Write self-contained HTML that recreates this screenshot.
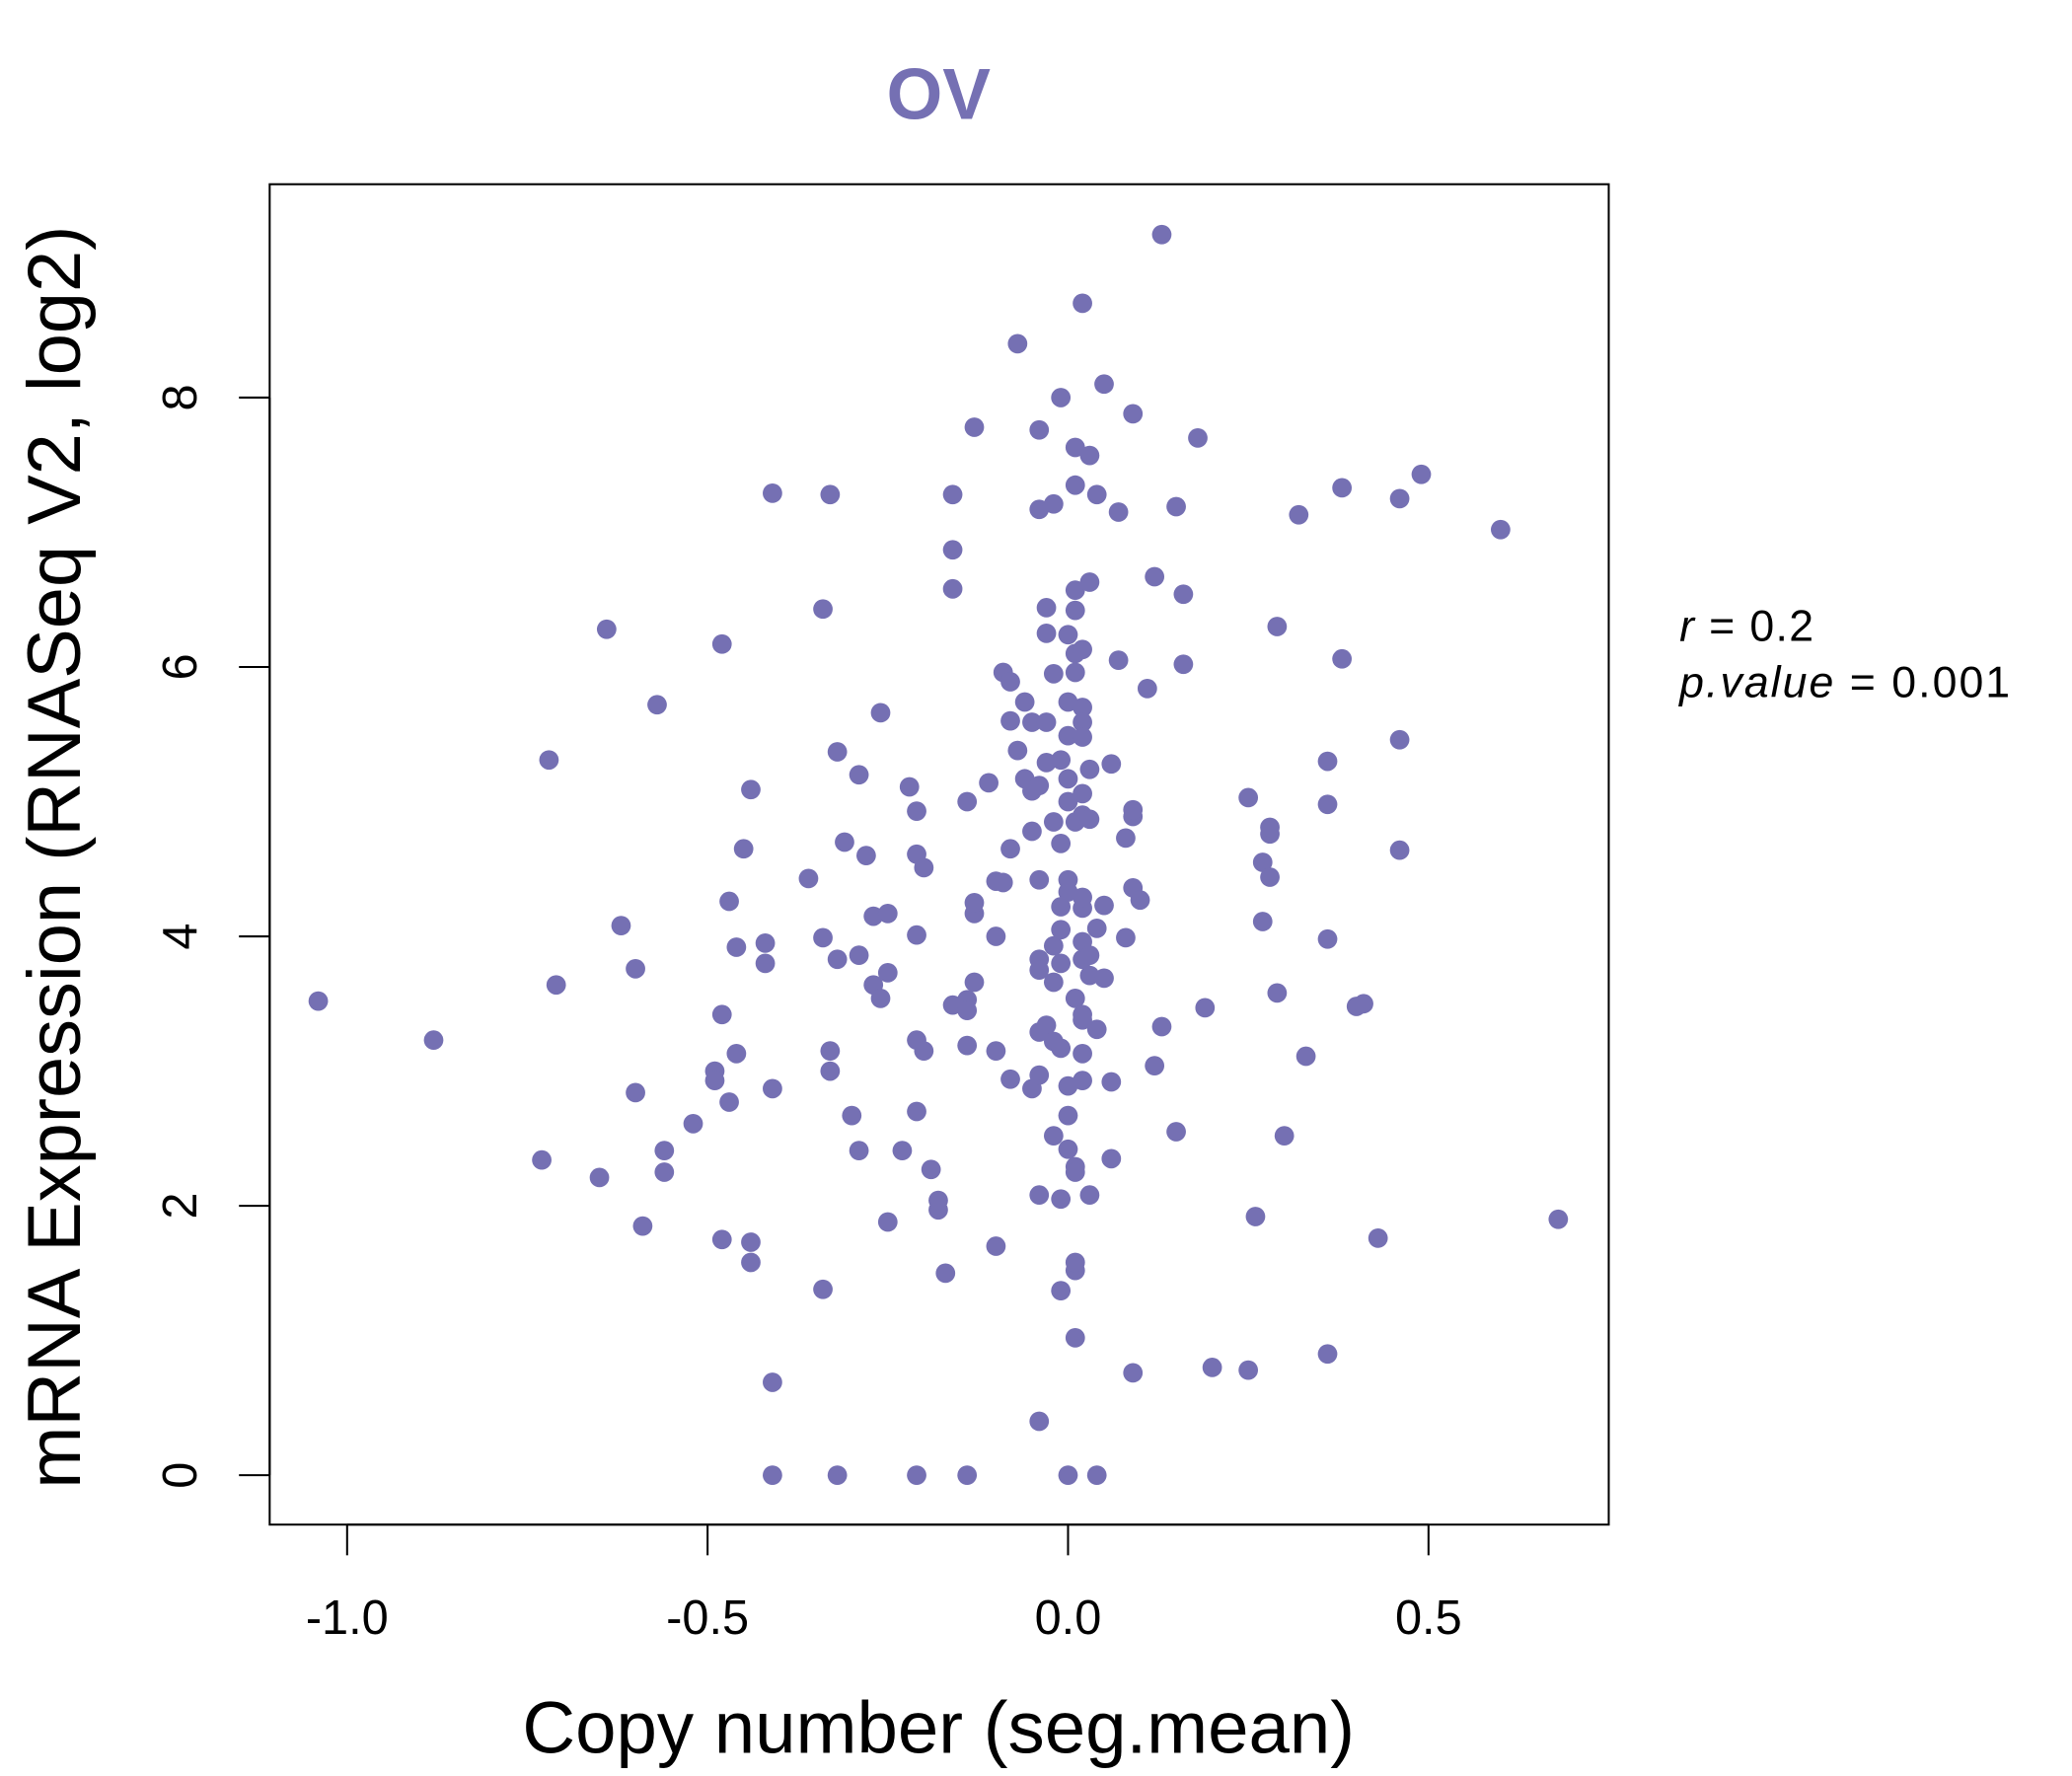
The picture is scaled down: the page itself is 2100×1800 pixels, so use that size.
<!DOCTYPE html>
<html><head><meta charset="utf-8"><style>
html,body{margin:0;padding:0;background:#fff;}
svg{display:block;font-family:"Liberation Sans",Arial,sans-serif;}
</style></head><body>
<svg id="chart" width="2100" height="1800" viewBox="0 0 1552 1330.3" preserveAspectRatio="none" xmlns="http://www.w3.org/2000/svg">
<rect width="1552" height="1330.3" fill="#fff"/>
<text x="703" y="89" text-anchor="middle" font-size="54" font-weight="bold" fill="#7570b3">OV</text>
<rect x="202" y="138" width="1003" height="1004" fill="none" stroke="#000" stroke-width="1.5"/>
<g id="xaxis"></g>
<g id="yaxis"></g>
<g id="points"></g>
<text x="703" y="1313" text-anchor="middle" font-size="55">Copy number (seg.mean)</text>
<text transform="translate(60,642) rotate(-90)" text-anchor="middle" font-size="56">mRNA Expression (RNASeq V2, log2)</text>
<text x="1258" y="480" font-size="33" letter-spacing="1"><tspan font-style="italic">r</tspan> = 0.2</text>
<text x="1258" y="522" font-size="33" letter-spacing="1.5"><tspan font-style="italic">p.value</tspan> = 0.001</text>
</svg>
<script>
const xTicks=[-1.0,-0.5,0.0,0.5];
const xTickLabels=["-1.0","-0.5","0.0","0.5"];
const yTicks=[0,2,4,6,8];
const yTickLabels=["0","2","4","6","8"];
const xs=[-1.04,-0.88,-0.73,-0.72,-0.71,-0.65,-0.64,-0.62,-0.60,-0.60,-0.59,-0.57,-0.56,-0.56,-0.52,-0.49,-0.49,-0.48,-0.48,-0.48,-0.47,-0.47,-0.46,-0.46,-0.45,-0.44,-0.44,-0.44,-0.42,-0.42,-0.41,-0.41,-0.41,-0.41,-0.36,-0.34,-0.34,-0.34,-0.33,-0.33,-0.33,-0.32,-0.32,-0.32,-0.31,-0.30,-0.29,-0.29,-0.29,-0.28,-0.27,-0.27,-0.26,-0.26,-0.25,-0.25,-0.25,-0.23,-0.22,-0.21,-0.21,-0.21,-0.21,-0.21,-0.21,-0.20,-0.20,-0.19,-0.18,-0.18,-0.17,-0.16,-0.16,-0.16,-0.16,-0.14,-0.14,-0.14,-0.14,-0.14,-0.13,-0.13,-0.13,-0.13,-0.11,-0.10,-0.10,-0.10,-0.10,-0.09,-0.09,-0.08,-0.08,-0.08,-0.08,-0.07,-0.07,-0.06,-0.06,-0.05,-0.05,-0.05,-0.05,-0.04,-0.04,-0.04,-0.04,-0.04,-0.04,-0.04,-0.04,-0.04,-0.04,-0.03,-0.03,-0.03,-0.03,-0.03,-0.02,-0.02,-0.02,-0.02,-0.02,-0.02,-0.02,-0.01,-0.01,-0.01,-0.01,-0.01,-0.01,-0.01,-0.01,-0.01,0.00,0.00,0.00,0.00,0.00,0.00,0.00,0.00,0.00,0.00,0.00,0.01,0.01,0.01,0.01,0.01,0.01,0.01,0.01,0.01,0.01,0.01,0.01,0.01,0.02,0.02,0.02,0.02,0.02,0.02,0.02,0.02,0.02,0.02,0.02,0.02,0.02,0.02,0.02,0.03,0.03,0.03,0.03,0.03,0.03,0.03,0.04,0.04,0.04,0.04,0.05,0.05,0.05,0.06,0.06,0.06,0.07,0.07,0.08,0.08,0.09,0.09,0.09,0.09,0.09,0.10,0.11,0.12,0.12,0.13,0.13,0.15,0.15,0.16,0.16,0.18,0.19,0.20,0.25,0.25,0.26,0.27,0.27,0.28,0.28,0.28,0.29,0.29,0.30,0.32,0.33,0.36,0.36,0.36,0.36,0.38,0.38,0.40,0.41,0.43,0.46,0.46,0.46,0.49,0.60,0.68];
const ys=[3.52,3.23,2.34,5.31,3.64,2.21,6.28,4.08,3.76,2.84,1.85,5.72,2.41,2.25,2.61,3.00,2.93,6.17,3.42,1.75,4.26,2.77,3.92,3.13,4.65,1.73,1.58,5.09,3.80,3.95,7.29,2.87,0.69,0,4.43,3.99,6.43,1.38,3.15,3.00,7.28,5.37,0,3.83,4.70,2.67,5.20,3.86,2.41,4.60,4.15,3.64,5.66,3.54,1.88,3.73,4.17,2.41,5.11,2.70,3.23,4.01,4.93,0,4.61,4.51,3.15,2.27,1.97,2.04,1.50,7.28,6.58,6.87,3.49,3.53,3.45,3.19,5.00,0,7.78,3.66,4.17,4.25,5.14,1.70,4.00,3.15,4.41,4.40,5.96,4.65,5.60,2.94,5.89,5.38,8.40,5.74,5.17,4.78,5.08,2.87,5.59,7.76,4.42,3.83,0.40,2.08,3.29,2.97,7.17,5.12,3.75,3.34,6.44,6.25,5.29,5.59,2.52,3.93,5.95,3.22,4.85,7.21,3.66,4.22,8.00,5.31,2.05,1.37,4.05,3.17,3.80,4.69,5.17,2.67,0,2.89,5.74,2.42,6.24,5.49,5.00,4.33,4.42,3.54,6.57,6.10,2.29,1.02,1.52,4.85,7.63,1.58,5.96,7.35,6.42,2.25,3.42,4.21,3.96,2.93,3.83,4.29,4.90,5.70,8.70,5.59,5.06,5.48,3.13,6.13,3.38,5.24,3.71,6.63,7.57,3.86,2.08,4.87,3.31,7.28,0,4.06,8.10,4.23,3.69,5.28,2.35,2.92,7.15,6.05,4.73,3.99,4.36,0.76,7.88,4.89,4.94,4.27,5.84,6.67,3.04,9.21,3.33,2.55,7.19,6.54,6.02,7.70,3.47,0.80,5.03,0.78,1.92,4.55,4.11,4.76,4.44,4.81,3.58,6.30,2.52,7.13,3.11,0.90,5.30,4.98,3.98,6.06,7.33,3.48,3.50,1.76,5.46,7.25,4.64,7.43,7.02,1.90];
const NS="http://www.w3.org/2000/svg";
function sx(v){return 800+v*540;}
function sy(v){return 1105-v*100.9;}
function mk(tag,attrs,parent){const e=document.createElementNS(NS,tag);for(const k in attrs)e.setAttribute(k,attrs[k]);parent.appendChild(e);return e;}
const xa=document.getElementById('xaxis'),ya=document.getElementById('yaxis'),pg=document.getElementById('points');
mk('line',{x1:sx(xTicks[0]),x2:sx(xTicks[xTicks.length-1]),y1:1142,y2:1142,stroke:'#000','stroke-width':1.5},xa);
xTicks.forEach((t,i)=>{
  const l=mk('line',{x1:sx(t),x2:sx(t),y1:1142,y2:1165,stroke:'#000','stroke-width':1.5},xa);
  
  
  const tx=mk('text',{x:sx(t),y:1224,'text-anchor':'middle','font-size':36},xa);
  tx.textContent=xTickLabels[i];
  
  
});
mk('line',{x1:202,x2:202,y1:sy(yTicks[0]),y2:sy(yTicks[yTicks.length-1]),stroke:'#000','stroke-width':1.5},ya);
yTicks.forEach((t,i)=>{
  const l=mk('line',{x1:179,x2:202,y1:sy(t),y2:sy(t),stroke:'#000','stroke-width':1.5},ya);
  
  
  const tx=mk('text',{transform:`translate(147,${sy(t)}) rotate(-90)`,'text-anchor':'middle','font-size':36},ya);
  tx.textContent=yTickLabels[i];
  
  
});
xs.forEach((v,i)=>{
  const c=mk('circle',{cx:sx(v),cy:sy(ys[i]),r:7.3,fill:'#7570b3'},pg);
  
  
});
</script>
</body></html>
